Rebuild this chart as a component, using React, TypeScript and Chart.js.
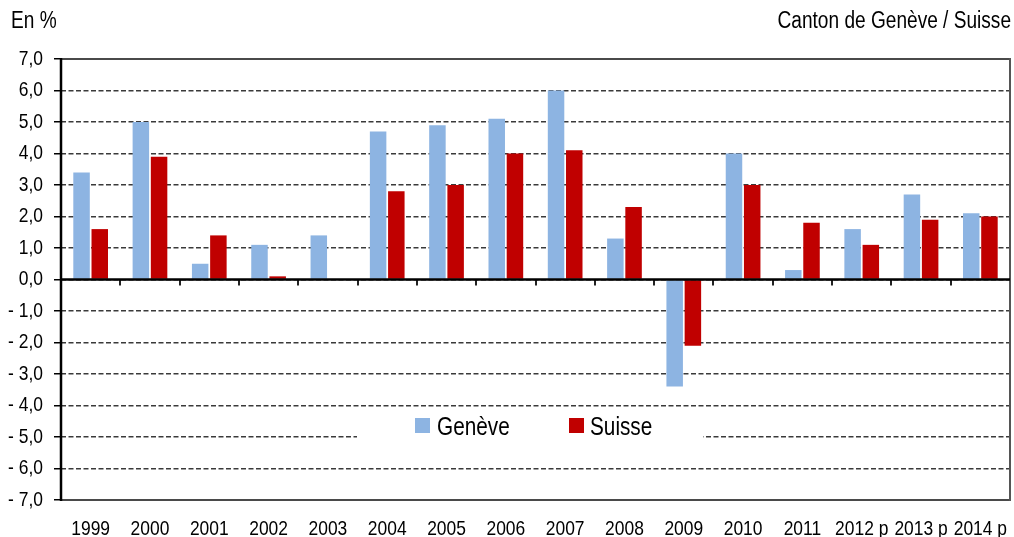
import React, { useEffect, useRef } from 'react';
import { Chart, registerables } from 'chart.js';

Chart.register(...registerables);

const categories = ['1999', '2000', '2001', '2002', '2003', '2004', '2005', '2006', '2007', '2008', '2009', '2010', '2011', '2012 p', '2013 p', '2014 p'];
const geneve = [3.4, 5.0, 0.5, 1.1, 1.4, 4.7, 4.9, 5.1, 6.0, 1.3, -3.4, 4.0, 0.3, 1.6, 2.7, 2.1];
const suisse = [1.6, 3.9, 1.4, 0.1, 0.0, 2.8, 3.0, 4.0, 4.1, 2.3, -2.1, 3.0, 1.8, 1.1, 1.9, 2.0];
const seriesNames = ['Genève', 'Suisse'];
const seriesColors = ['#8DB4E2', '#C00000'];
const yMin = -7;
const yMax = 7;
const yStep = 1;
const unitLabel = 'En %';
const sourceLabel = 'Canton de Genève / Suisse';

const FONT = '"Liberation Sans", Arial, sans-serif';
const NARROW = 0.83;

const formatTick = (v: number) => {
  const s = Math.abs(v).toFixed(1).replace('.', ',');
  return v < 0 ? '- ' + s : s;
};

function narrowText(ctx: CanvasRenderingContext2D, text: string, x: number, y: number, size: number, align: CanvasTextAlign, baseline: CanvasTextBaseline) {
  ctx.save();
  ctx.font = `${size}px ${FONT}`;
  ctx.fillStyle = '#000';
  ctx.textAlign = align;
  ctx.textBaseline = baseline;
  ctx.translate(x, y);
  ctx.scale(NARROW, 1);
  ctx.fillText(text, 0, 0);
  ctx.restore();
}

const decorPlugin = {
  id: 'decor',
  beforeDatasetsDraw(chart: any) {
    const { ctx, chartArea: a } = chart;
    ctx.save();
    // top and bottom frame lines
    ctx.strokeStyle = '#4a4a4a';
    ctx.lineWidth = 2;
    ctx.beginPath();
    ctx.moveTo(a.left, a.top);
    ctx.lineTo(a.right, a.top);
    ctx.moveTo(a.left, a.bottom);
    ctx.lineTo(a.right, a.bottom);
    ctx.stroke();
    // legend panel
    ctx.fillStyle = '#ffffff';
    ctx.fillRect(357, 411, 346, 52);
    const items = [
      { x: 415, tx: 437 },
      { x: 569, tx: 590 },
    ];
    items.forEach((it, i) => {
      ctx.fillStyle = seriesColors[i];
      ctx.fillRect(it.x, 418, 15, 15);
      narrowText(ctx, seriesNames[i], it.tx, 435, 25, 'left', 'alphabetic');
    });
    ctx.restore();
  },
  afterDatasetsDraw(chart: any) {
    const { ctx, chartArea: a, scales } = chart;
    const xs = scales.x;
    const ys = scales.y;
    const y0 = ys.getPixelForValue(0);
    ctx.save();
    // right border
    ctx.strokeStyle = '#555';
    ctx.lineWidth = 2;
    ctx.beginPath();
    ctx.moveTo(a.right, a.top - 1);
    ctx.lineTo(a.right, a.bottom + 1);
    ctx.stroke();
    // x ticks at zero line (category boundaries)
    const n = categories.length;
    const w = (a.right - a.left) / n;
    ctx.strokeStyle = '#222';
    ctx.lineWidth = 2;
    for (let i = 1; i < n; i++) {
      const x = Math.round(a.left + i * w);
      ctx.beginPath();
      ctx.moveTo(x, y0);
      ctx.lineTo(x, y0 + 6);
      ctx.stroke();
    }
    // zero line
    ctx.strokeStyle = '#000';
    ctx.lineWidth = 2.5;
    ctx.beginPath();
    ctx.moveTo(a.left, y0);
    ctx.lineTo(a.right, y0);
    ctx.stroke();
    // left axis
    ctx.beginPath();
    ctx.moveTo(a.left, a.top - 1);
    ctx.lineTo(a.left, a.bottom + 1);
    ctx.stroke();
    ctx.restore();

    // y tick labels
    ys.ticks.forEach((t: any, i: number) => {
      narrowText(ctx, formatTick(Number(t.value)), a.left - 18, ys.getPixelForTick(i), 21, 'right', 'middle');
    });
    // x tick labels
    xs.ticks.forEach((t: any, i: number) => {
      narrowText(ctx, String(categories[i]), xs.getPixelForTick(i), 535, 21, 'center', 'alphabetic');
    });
    // header texts
    narrowText(ctx, unitLabel, 11, 28, 23, 'left', 'alphabetic');
    narrowText(ctx, sourceLabel, 1011, 28, 23, 'right', 'alphabetic');
  },
};

export default function App() {
  const ref = useRef<HTMLCanvasElement | null>(null);
  useEffect(() => {
    if (!ref.current) return;
    const chart = new Chart(ref.current, {
      type: 'bar',
      data: {
        labels: categories,
        datasets: [
          { label: seriesNames[0], data: geneve, backgroundColor: seriesColors[0], borderWidth: 0, categoryPercentage: 0.614, barPercentage: 0.906 },
          { label: seriesNames[1], data: suisse, backgroundColor: seriesColors[1], borderWidth: 0, categoryPercentage: 0.614, barPercentage: 0.906 },
        ],
      },
      options: {
        responsive: false,
        animation: false,
        layout: { padding: { top: 59, right: 4, left: 0, bottom: 0 } },
        plugins: { legend: { display: false }, tooltip: { enabled: false }, title: { display: false } },
        scales: {
          x: {
            grid: { display: false },
            border: { display: false },
            ticks: { display: false, autoSkip: false },
            afterFit: (s: any) => { s.height = 37; },
          },
          y: {
            min: yMin,
            max: yMax,
            ticks: { display: false, stepSize: yStep },
            grid: { color: '#3a3a3a', lineWidth: 1.5, drawTicks: true, tickLength: 7, tickColor: '#000', tickWidth: 1.5 },
            border: { display: false, dash: [5, 2.5] },
            afterFit: (s: any) => { s.width = 61; },
          },
        },
      },
      plugins: [decorPlugin],
    });
    return () => chart.destroy();
  }, []);
  return (
    <div style={{ position: 'fixed', left: 0, top: 0, width: 1014, height: 537, background: '#fff' }}>
      <canvas ref={ref} width={1014} height={537} style={{ display: 'block' }} />
    </div>
  );
}
